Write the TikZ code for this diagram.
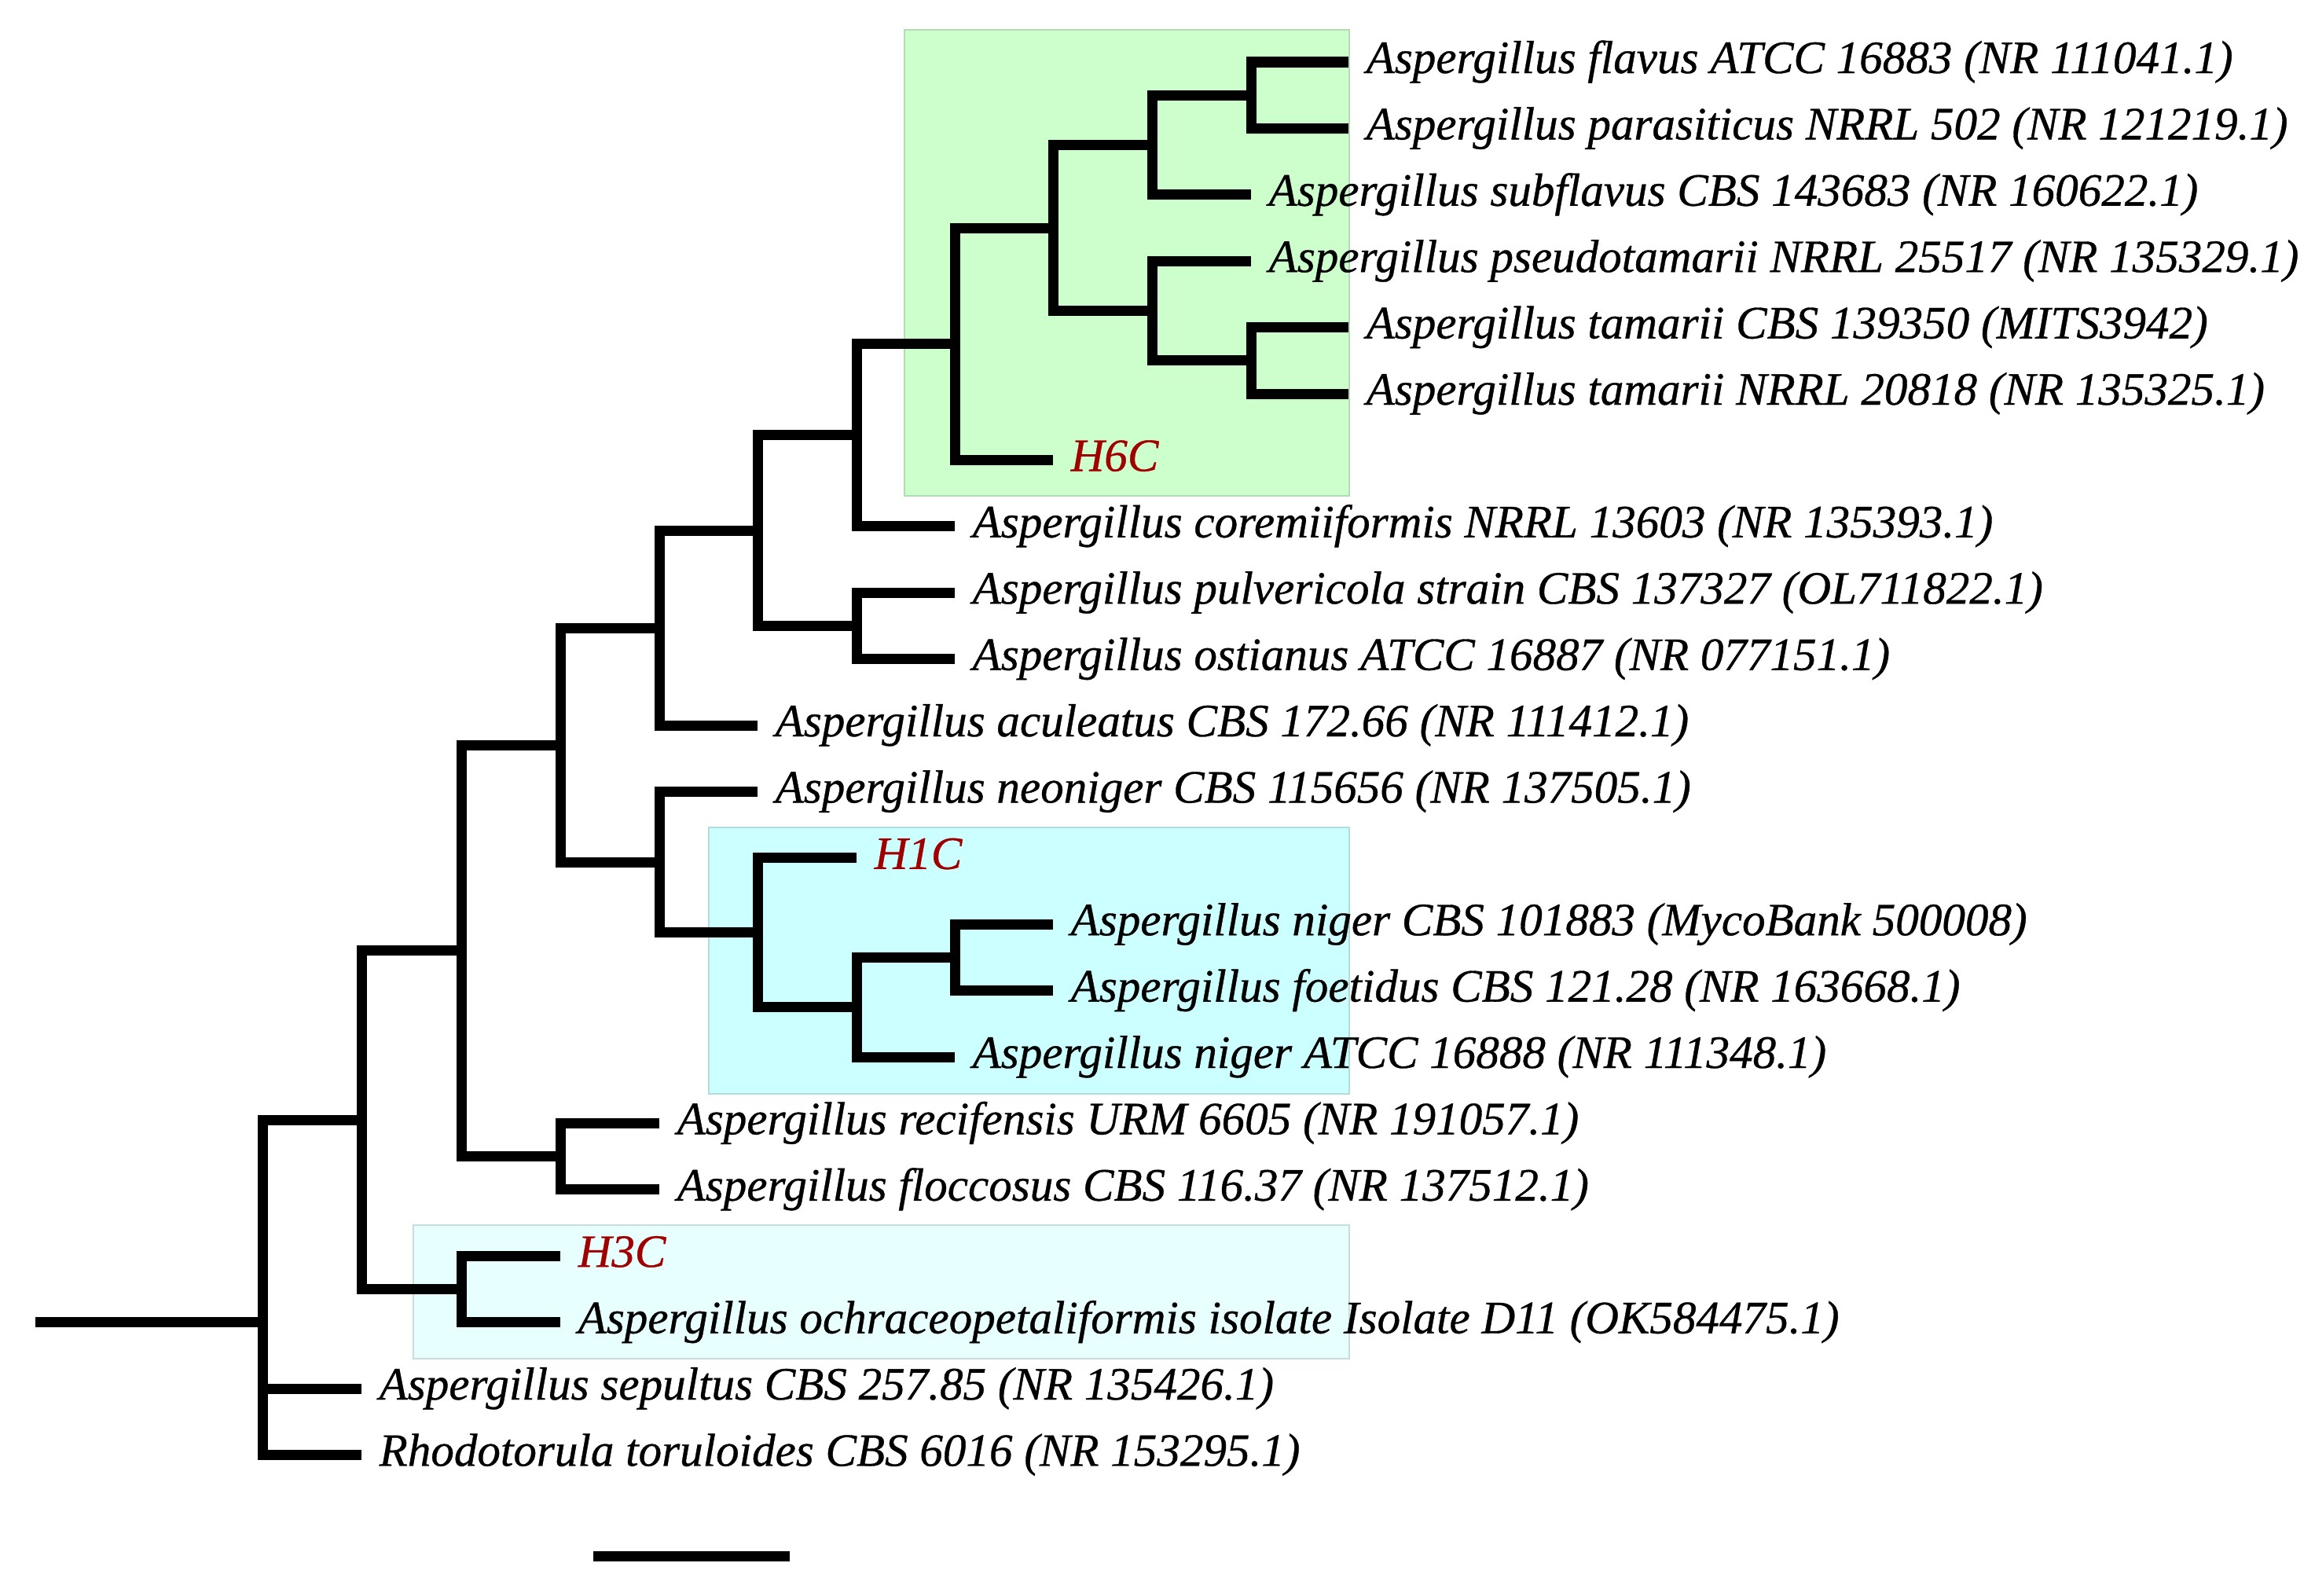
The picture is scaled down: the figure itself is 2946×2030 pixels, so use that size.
\documentclass[tikz,border=0pt]{standalone}
\usepackage{fontspec}
\setmainfont{Liberation Serif}[ItalicFeatures={FakeBold=0.6}]
\usetikzlibrary{calc}
\definecolor{boxgreen}{HTML}{CCFFCC}
\definecolor{boxgreenline}{HTML}{B4DCB4}
\definecolor{boxcyan}{HTML}{CCFFFF}
\definecolor{boxcyanline}{HTML}{B0DCDC}
\definecolor{boxpale}{HTML}{E8FFFF}
\definecolor{boxpaleline}{HTML}{C8DCDC}
\definecolor{hapred}{HTML}{A00000}
\begin{document}
\begin{tikzpicture}[x=0.01cm,y=-0.01cm,
  branch/.style={line width=0.13cm, line join=miter, line cap=butt},
  lab/.style={anchor=base west, inner sep=0pt, font=\fontsize{16.8}{20}\selectfont\itshape},
  hap/.style={lab, text=hapred},
  cladebox/.style={line width=0.025cm}]
\useasboundingbox (0,0) rectangle (2946,2030);

% clade highlight boxes
\draw[cladebox, draw=boxgreenline, fill=boxgreen] (1151,38) rectangle (1717,631);
\draw[cladebox, draw=boxcyanline, fill=boxcyan] (902,1053) rectangle (1717,1392);
\draw[cladebox, draw=boxpaleline, fill=boxpale] (526,1559) rectangle (1717,1729);

% internal nodes
\coordinate (root) at (45,1682.6);
\coordinate (A) at (334,1682.6);
\coordinate (B) at (460,1425.1);
\coordinate (C) at (587,1209.8);
\coordinate (D) at (587,1640.4);
\coordinate (E) at (713,948);
\coordinate (F) at (713,1471.6);
\coordinate (G) at (839,799);
\coordinate (H) at (839,1097.1);
\coordinate (I) at (964,1186.75);
\coordinate (J) at (1090,1281.7);
\coordinate (K) at (1215,1218.4);
\coordinate (L) at (964,675.1);
\coordinate (M) at (1090,553.75);
\coordinate (N) at (1090,796.4);
\coordinate (O) at (1215,437.7);
\coordinate (P) at (1340,290);
\coordinate (Q) at (1466,184.5);
\coordinate (R) at (1466,395.5);
\coordinate (S) at (1592,121.2);
\coordinate (T) at (1592,458.8);

% leaf ends
\coordinate (l1) at (1716,79);
\coordinate (l2) at (1716,163.4);
\coordinate (l3) at (1592,247.8);
\coordinate (l4) at (1592,332.2);
\coordinate (l5) at (1716,416.6);
\coordinate (l6) at (1716,501);
\coordinate (l7) at (1340,585.4);
\coordinate (l8) at (1215,669.8);
\coordinate (l9) at (1215,754.2);
\coordinate (l10) at (1215,838.6);
\coordinate (l11) at (964,923);
\coordinate (l12) at (964,1007.4);
\coordinate (l13) at (1090,1091.8);
\coordinate (l14) at (1340,1176.2);
\coordinate (l15) at (1340,1260.6);
\coordinate (l16) at (1215,1345);
\coordinate (l17) at (839,1429.4);
\coordinate (l18) at (839,1513.8);
\coordinate (l19) at (713,1598.2);
\coordinate (l20) at (713,1682.6);
\coordinate (l21) at (460,1767);
\coordinate (l22) at (460,1851.4);

% branches
\draw[branch] (root) -- (A);
\draw[branch] (A) |- (B);
\draw[branch] (A) |- (l21);
\draw[branch] (A) |- (l22);
\draw[branch] (B) |- (C);
\draw[branch] (B) |- (D);
\draw[branch] (D) |- (l19);
\draw[branch] (D) |- (l20);
\draw[branch] (C) |- (E);
\draw[branch] (C) |- (F);
\draw[branch] (F) |- (l17);
\draw[branch] (F) |- (l18);
\draw[branch] (E) |- (G);
\draw[branch] (E) |- (H);
\draw[branch] (H) |- (l12);
\draw[branch] (H) |- (I);
\draw[branch] (I) |- (l13);
\draw[branch] (I) |- (J);
\draw[branch] (J) |- (K);
\draw[branch] (J) |- (l16);
\draw[branch] (K) |- (l14);
\draw[branch] (K) |- (l15);
\draw[branch] (G) |- (L);
\draw[branch] (G) |- (l11);
\draw[branch] (L) |- (M);
\draw[branch] (L) |- (N);
\draw[branch] (N) |- (l9);
\draw[branch] (N) |- (l10);
\draw[branch] (M) |- (O);
\draw[branch] (M) |- (l8);
\draw[branch] (O) |- (P);
\draw[branch] (O) |- (l7);
\draw[branch] (P) |- (Q);
\draw[branch] (P) |- (R);
\draw[branch] (Q) |- (S);
\draw[branch] (Q) |- (l3);
\draw[branch] (S) |- (l1);
\draw[branch] (S) |- (l2);
\draw[branch] (R) |- (l4);
\draw[branch] (R) |- (T);
\draw[branch] (T) |- (l5);
\draw[branch] (T) |- (l6);

% labels
\node[lab] (t1) at ([shift={(22,14)}]l1) {Aspergillus flavus ATCC 16883 (NR 111041.1)};
\node[lab] (t2) at ([shift={(22,14)}]l2) {Aspergillus parasiticus NRRL 502 (NR 121219.1)};
\node[lab] (t3) at ([shift={(22,14)}]l3) {Aspergillus subflavus CBS 143683 (NR 160622.1)};
\node[lab] (t4) at ([shift={(22,14)}]l4) {Aspergillus pseudotamarii NRRL 25517 (NR 135329.1)};
\node[lab] (t5) at ([shift={(22,14)}]l5) {Aspergillus tamarii CBS 139350 (MITS3942)};
\node[lab] (t6) at ([shift={(22,14)}]l6) {Aspergillus tamarii NRRL 20818 (NR 135325.1)};
\node[hap] (t7) at ([shift={(22,14)}]l7) {H6C};
\node[lab] (t8) at ([shift={(22,14)}]l8) {Aspergillus coremiiformis NRRL 13603 (NR 135393.1)};
\node[lab] (t9) at ([shift={(22,14)}]l9) {Aspergillus pulvericola strain CBS 137327 (OL711822.1)};
\node[lab] (t10) at ([shift={(22,14)}]l10) {Aspergillus ostianus ATCC 16887 (NR 077151.1)};
\node[lab] (t11) at ([shift={(22,14)}]l11) {Aspergillus aculeatus CBS 172.66 (NR 111412.1)};
\node[lab] (t12) at ([shift={(22,14)}]l12) {Aspergillus neoniger CBS 115656 (NR 137505.1)};
\node[hap] (t13) at ([shift={(22,14)}]l13) {H1C};
\node[lab] (t14) at ([shift={(22,14)}]l14) {Aspergillus niger CBS 101883 (MycoBank 500008)};
\node[lab] (t15) at ([shift={(22,14)}]l15) {Aspergillus foetidus CBS 121.28 (NR 163668.1)};
\node[lab] (t16) at ([shift={(22,14)}]l16) {Aspergillus niger ATCC 16888 (NR 111348.1)};
\node[lab] (t17) at ([shift={(22,14)}]l17) {Aspergillus recifensis URM 6605 (NR 191057.1)};
\node[lab] (t18) at ([shift={(22,14)}]l18) {Aspergillus floccosus CBS 116.37 (NR 137512.1)};
\node[hap] (t19) at ([shift={(22,14)}]l19) {H3C};
\node[lab] (t20) at ([shift={(22,14)}]l20) {Aspergillus ochraceopetaliformis isolate Isolate D11 (OK584475.1)};
\node[lab] (t21) at ([shift={(22,14)}]l21) {Aspergillus sepultus CBS 257.85 (NR 135426.1)};
\node[lab] (t22) at ([shift={(22,14)}]l22) {Rhodotorula toruloides CBS 6016 (NR 153295.1)};

% scale bar
\coordinate (sb1) at (755,1980);
\coordinate (sb2) at (1005,1980);
\draw[branch] (sb1) -- (sb2);
\end{tikzpicture}
\end{document}
